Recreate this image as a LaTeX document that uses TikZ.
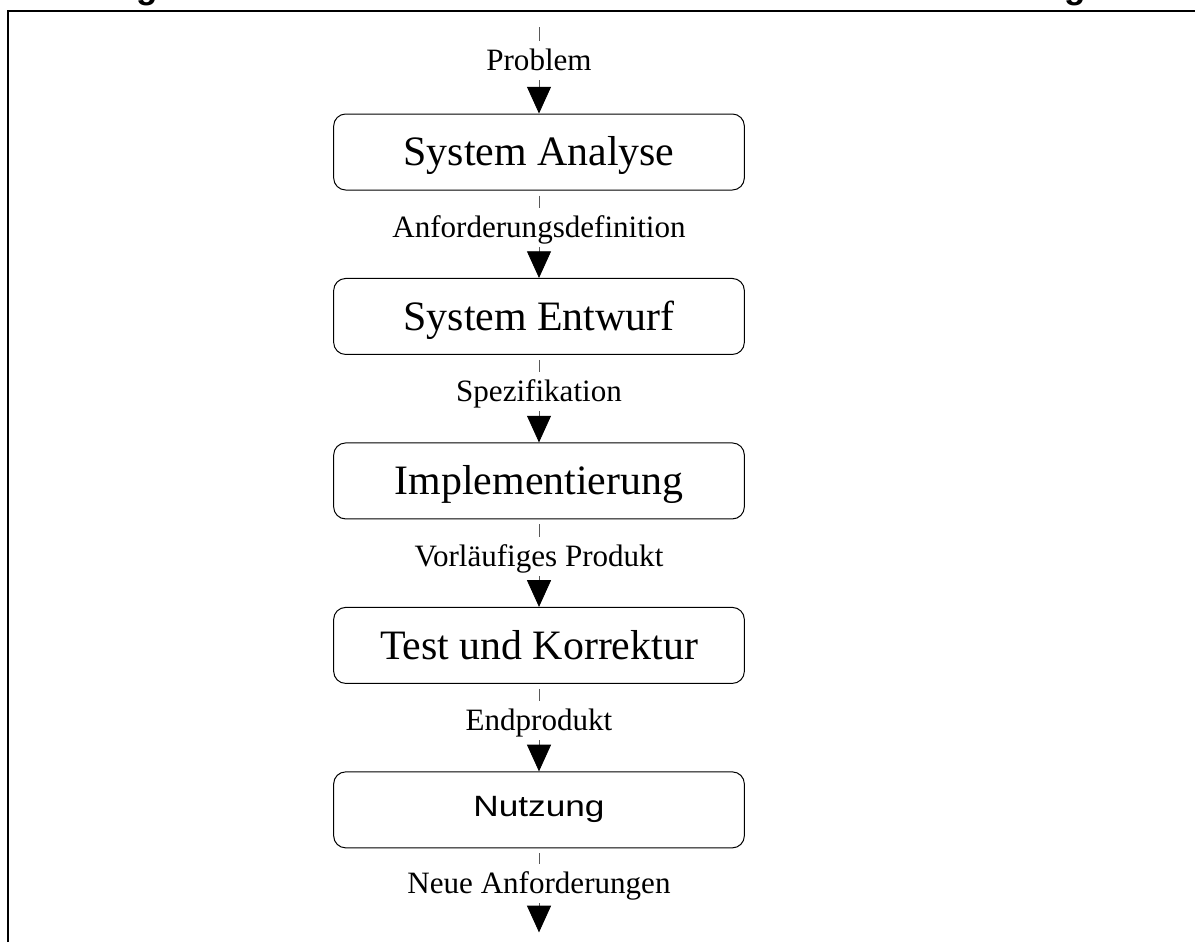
\documentclass[tikz,border=0pt]{standalone}
\usepackage{fontspec}
\setmainfont{Liberation Serif}
\newfontfamily\titlefont{Liberation Sans}
\newfontfamily\nutzfont[FakeStretch=1.2]{Liberation Sans}
\usetikzlibrary{positioning,arrows.meta}

\tikzset{
	phase/.style={draw,rounded corners=9pt,minimum width=308pt,minimum height=57pt,line width=0.75pt,inner sep=0pt,
		font=\fontsize{31.4}{36}\selectfont,text height=20.8pt,text depth=0pt},
	flow/.style={-{Triangle[width=18pt,length=20pt,black]},line width=0.6pt,draw=black!65,shorten <=3.75pt},
	flowlabel/.style={fill=white,inner sep=7pt,pos=0.42,font=\fontsize{23.3}{27}\selectfont,text height=15.4pt,text depth=0pt},
}

\begin{document}
\begin{tikzpicture}[x=0.75pt,y=0.75pt]
	\useasboundingbox (0,0) rectangle (1195,-942);
	\clip (0,0) rectangle (1195,-942);
	% title, cut off by the page edge
	\node[anchor=base west,inner sep=0pt,font=\titlefont\bfseries\fontsize{26.25}{30}\selectfont] (titel) at (-15,1)
		{Abbildung 1: Klassisches Phasenmodell der Softwareentwicklung};
	\draw[line width=1.5pt] (7.5,-942) -- (7.5,-11) -- (1195,-11);	%frame
	
	\node[phase] (p1) at (539,-152) {System Analyse};
	\node[phase,below=65.6pt of p1] (p2) {System Entwurf};
	\node[phase,below=65.6pt of p2] (p3) {Implementierung};
	\node[phase,below=65.6pt of p3] (p4) {Test und Korrektur};
	\node[phase,below=65.6pt of p4,font=\nutzfont\fontsize{22}{26}\selectfont,text height=15.7pt,text depth=6pt] (p5) {Nutzung};
	\coordinate[above=68.25pt of p1] (start);
	\coordinate[below=63pt of p5] (ende);
	
	\foreach \a/\b/\txt in {start/p1/Problem,p1/p2/Anforderungsdefinition,p2/p3/Spezifikation,
		p3/p4/Vorläufiges Produkt,p4/p5/Endprodukt,p5/ende/Neue Anforderungen}{
		\draw[flow] (\a) -- node[flowlabel] {\txt} (\b);
	}
\end{tikzpicture}
\end{document}
